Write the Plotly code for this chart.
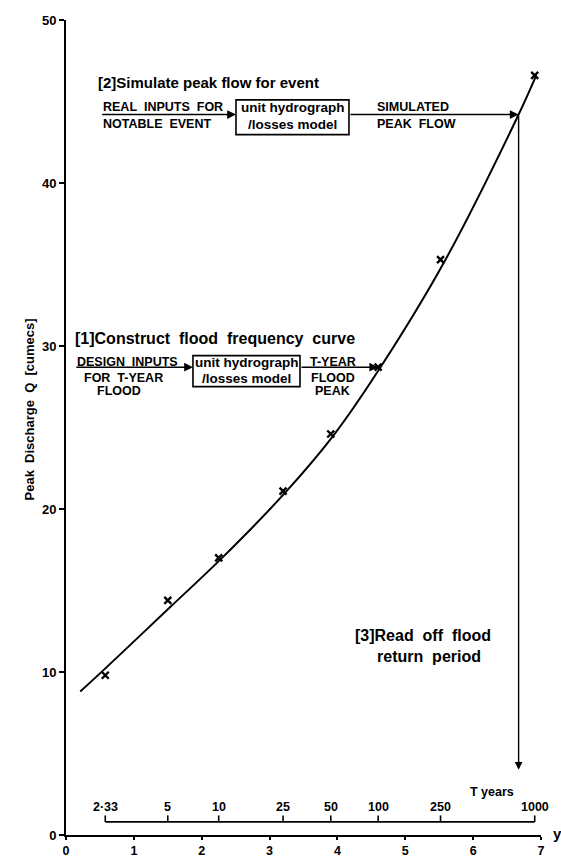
import numpy as np
import plotly.graph_objects as go

# Return periods (years) of the design floods and their simulated peaks
T_years = [2.33, 5, 10, 25, 50, 100, 250, 1000]
T_labels = ["2·33", "5", "10", "25", "50", "100", "250", "1000"]
peak_q = [9.8, 14.4, 17.0, 21.1, 24.6, 28.7, 35.3, 46.6]

# Smooth flood frequency curve (reduced variate y, discharge Q)
curve_y = [0.21, 0.60, 1.54, 2.30, 3.23, 3.94, 4.62, 5.58, 6.67, 6.93]
curve_q = [8.8, 10.3, 14.0, 17.0, 21.0, 24.5, 28.6, 35.2, 44.2, 46.6]

# Notable event: simulated peak and the reduced variate
event_q = 44.2
event_y = 6.67

x_ticks = [0, 1, 2, 3, 4, 5, 6, 7]
q_ticks = [0, 10, 20, 30, 40, 50]

FONT = "Liberation Sans, Arial, Helvetica, sans-serif"
SP = "\u00a0 "  # wide word gap


def gumbel_variate(T):
    T = np.asarray(T, dtype=float)
    return -np.log(-np.log(1.0 - 1.0 / T))


def spaced(s):
    return s.replace(" ", SP)


yT = gumbel_variate(T_years)

fig = go.Figure()

# fitted curve
fig.add_trace(go.Scatter(
    x=curve_y, y=curve_q, mode="lines",
    line=dict(color="black", width=2, shape="spline", smoothing=1.0),
    hoverinfo="skip", showlegend=False))

# simulated design peaks
fig.add_trace(go.Scatter(
    x=yT, y=peak_q, mode="markers",
    marker=dict(symbol="x-thin", size=7, line=dict(color="black", width=2.4)),
    showlegend=False))

# return-period scale under the curve
scale_base, scale_top = 0.8, 1.2
sx, sy = [float(yT[0]), float(yT[-1])], [scale_base, scale_base]
fig.add_trace(go.Scatter(x=sx, y=sy, mode="lines",
                         line=dict(color="black", width=1.8),
                         hoverinfo="skip", showlegend=False))
tx, ty = [], []
for v in yT:
    tx += [float(v), float(v), None]
    ty += [scale_base, scale_top, None]
fig.add_trace(go.Scatter(x=tx, y=ty, mode="lines",
                         line=dict(color="black", width=1.6),
                         hoverinfo="skip", showlegend=False))

annotations = []


def text(s, x, y, size=12, xanchor="center"):
    annotations.append(dict(
        x=x, y=y, xref="x", yref="y", text=s, showarrow=False,
        xanchor=xanchor, yanchor="middle",
        font=dict(family=FONT, size=size, color="black", weight="bold")))


def arrow(x0, y0, x1, y1, width=1.6):
    annotations.append(dict(
        x=x1, y=y1, ax=x0, ay=y0, xref="x", yref="y", axref="x", ayref="y",
        text="", showarrow=True, arrowhead=2, arrowsize=1.1,
        arrowwidth=width, arrowcolor="black", standoff=0, startstandoff=0))


CAPS = 12.5
BOX = 13.5

# T labels
for v, lab in zip(yT, T_labels):
    text(lab, float(v), 1.72, size=12.5)
text("T years", 6.28, 2.63, size=12.5)

# [2] simulate peak flow for event
text("[2]Simulate peak flow for event", 0.44, 46.15, size=15, xanchor="left")
text(spaced("REAL INPUTS FOR"), 0.51, 44.69, size=CAPS, xanchor="left")
text(spaced("NOTABLE EVENT"), 0.51, 43.61, size=CAPS, xanchor="left")
text("unit hydrograph", 3.34, 44.61, size=BOX)
text("/losses model", 3.34, 43.57, size=BOX)
text("SIMULATED", 4.55, 44.69, size=CAPS, xanchor="left")
text(spaced("PEAK FLOW"), 4.55, 43.61, size=CAPS, xanchor="left")
arrow(0.51, event_q, 2.505, event_q)
arrow(4.17, event_q, event_y, event_q)
arrow(event_y, event_q, event_y, 4.0, width=1.4)

# [1] construct flood frequency curve
q100 = peak_q[T_years.index(100)]
text(spaced("[1]Construct flood frequency curve"), 0.10, 30.45, size=16, xanchor="left")
text(spaced("DESIGN INPUTS"), 0.90, 29.0, size=CAPS)
text(spaced("FOR T-YEAR"), 0.85, 28.06, size=CAPS)
text("FLOOD", 0.78, 27.27, size=CAPS)
text("unit hydrograph", 2.66, 28.98, size=BOX)
text("/losses model", 2.66, 28.03, size=BOX)
text("T-YEAR", 3.93, 29.0, size=CAPS)
text("FLOOD", 3.93, 28.06, size=CAPS)
text("PEAK", 3.93, 27.27, size=CAPS)
arrow(0.13, q100, 1.871, q100)
arrow(3.448, q100, float(yT[T_years.index(100)]), q100)

text(spaced("[3]Read off flood"), 4.23, 12.21, size=16, xanchor="left")
text(spaced("return period"), 4.55, 10.95, size=16, xanchor="left")

# axis titles (paper-referenced so they sit outside the plotting area)
annotations.append(dict(
    x=-0.076, y=26.1, xref="paper", yref="y",
    text=spaced("Peak Discharge Q [cumecs]"),
    showarrow=False, textangle=-90, xanchor="center", yanchor="middle",
    font=dict(family=FONT, size=13, color="black", weight="bold")))
annotations.append(dict(
    x=1.034, y=0.1, xref="paper", yref="y", text="y", showarrow=False,
    xanchor="center", yanchor="middle",
    font=dict(family=FONT, size=15, color="black", weight="bold")))

shapes = [
    dict(type="rect", xref="x", yref="y", x0=2.505, x1=4.17, y0=42.97, y1=45.1,
         line=dict(color="black", width=1.6)),
    dict(type="rect", xref="x", yref="y", x0=1.871, x1=3.448, y0=27.51, y1=29.41,
         line=dict(color="black", width=1.6)),
]

fig.update_layout(
    width=561, height=857,
    margin=dict(l=66, r=20, t=20, b=22),
    paper_bgcolor="white", plot_bgcolor="white",
    showlegend=False,
    annotations=annotations, shapes=shapes,
    xaxis=dict(range=[0, 7], tickvals=x_ticks, showgrid=False, zeroline=False,
               showline=True, linecolor="black", linewidth=2,
               ticks="outside", ticklen=3, tickwidth=2, tickcolor="black",
               tickfont=dict(family=FONT, size=12.5, color="black", weight="bold"),
               automargin=False),
    yaxis=dict(range=[0, 50], tickvals=q_ticks, showgrid=False, zeroline=False,
               showline=True, linecolor="black", linewidth=2,
               ticks="outside", ticklen=5, tickwidth=1.6, tickcolor="black",
               tickfont=dict(family=FONT, size=13, color="black", weight="bold"),
               automargin=False),
)

fig.write_html("out.html")
